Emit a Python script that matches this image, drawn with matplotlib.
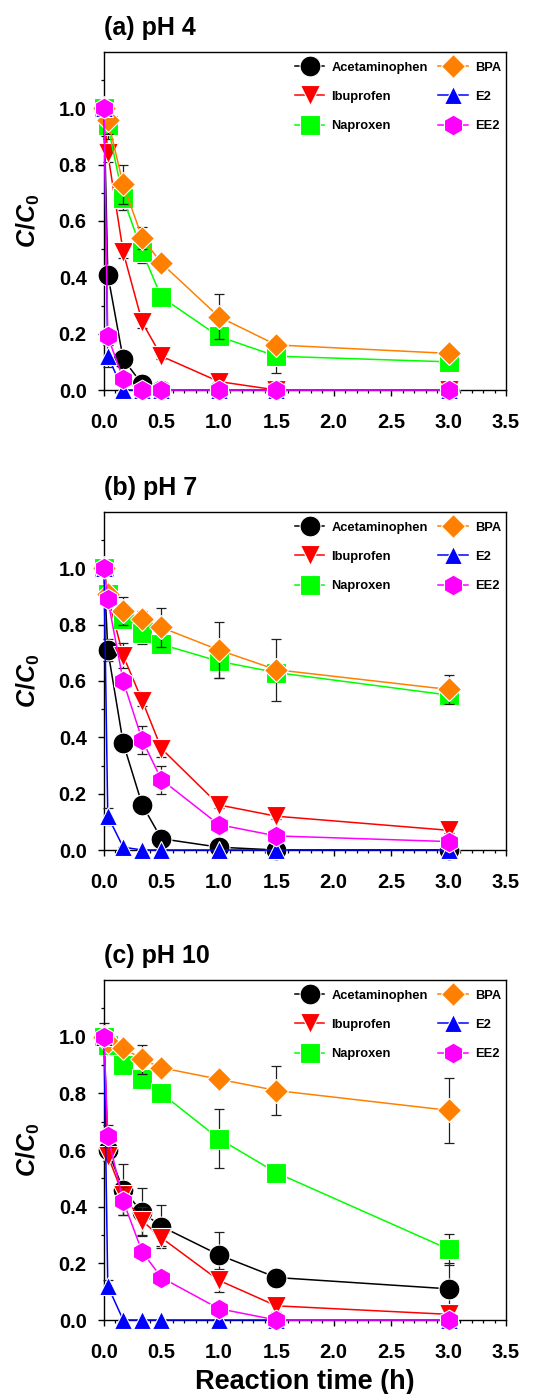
import matplotlib
matplotlib.use("Agg")
import matplotlib.pyplot as plt
from matplotlib.ticker import MultipleLocator, FixedLocator

plt.rcParams['font.family'] = ['Liberation Sans', 'DejaVu Sans']
plt.rcParams['font.weight'] = 'bold'
plt.rcParams['mathtext.fontset'] = 'custom'
plt.rcParams['mathtext.it'] = 'Liberation Sans:italic:bold'
plt.rcParams['mathtext.rm'] = 'Liberation Sans:bold'
plt.rcParams['mathtext.bf'] = 'Liberation Sans:bold'

# ---------------- data ----------------
time_h = [0, 0.033, 0.167, 0.333, 0.5, 1.0, 1.5, 3.0]
compounds = ["Acetaminophen", "Ibuprofen", "Naproxen", "BPA", "E2", "EE2"]
panel_titles = ["(a) pH 4", "(b) pH 7", "(c) pH 10"]

# pH 4
acet_ph4 = [1.0, 0.41, 0.11, 0.02, 0.0, 0.0, 0.0, 0.0]
ibu_ph4 = [1.0, 0.84, 0.49, 0.24, 0.12, 0.03, 0.0, 0.0]
nap_ph4 = [1.0, 0.94, 0.68, 0.49, 0.33, 0.19, 0.12, 0.10]
bpa_ph4 = [1.0, 0.96, 0.73, 0.54, 0.45, 0.26, 0.16, 0.13]
e2_ph4 = [1.0, 0.12, 0.0, 0.0, 0.0, 0.0, 0.0, 0.0]
ee2_ph4 = [1.0, 0.19, 0.04, 0.0, 0.0, 0.0, 0.0, 0.0]

err_acet_ph4 = [0, 0.03, 0.02, 0.02, 0, 0, 0, 0]
err_ibu_ph4 = [0, 0.03, 0.02, 0.02, 0.01, 0.01, 0, 0]
err_nap_ph4 = [0, 0.05, 0.04, 0.04, 0.01, 0.02, 0.06, 0.01]
err_bpa_ph4 = [0, 0.05, 0.07, 0.04, 0.01, 0.08, 0.01, 0.01]
err_e2_ph4 = [0, 0.04, 0, 0, 0, 0, 0, 0]
err_ee2_ph4 = [0, 0.02, 0.01, 0, 0, 0, 0, 0]

# pH 7
acet_ph7 = [1.0, 0.71, 0.38, 0.16, 0.04, 0.01, 0.0, 0.0]
ibu_ph7 = [1.0, 0.90, 0.69, 0.53, 0.36, 0.16, 0.12, 0.07]
nap_ph7 = [1.0, 0.91, 0.82, 0.77, 0.73, 0.67, 0.63, 0.55]
bpa_ph7 = [1.0, 0.91, 0.85, 0.82, 0.79, 0.71, 0.64, 0.57]
e2_ph7 = [1.0, 0.12, 0.01, 0.0, 0.0, 0.0, 0.0, 0.0]
ee2_ph7 = [1.0, 0.89, 0.60, 0.39, 0.25, 0.09, 0.05, 0.03]

err_acet_ph7 = [0, 0.04, 0.01, 0.01, 0.01, 0.01, 0, 0]
err_ibu_ph7 = [0, 0.02, 0.045, 0.02, 0.03, 0.01, 0.01, 0.01]
err_nap_ph7 = [0, 0.02, 0.02, 0.04, 0.01, 0.06, 0.03, 0.03]
err_bpa_ph7 = [0, 0.02, 0.05, 0.03, 0.07, 0.10, 0.11, 0.05]
err_e2_ph7 = [0, 0.03, 0, 0, 0, 0, 0, 0]
err_ee2_ph7 = [0, 0.02, 0.02, 0.05, 0.05, 0.01, 0.01, 0.01]

# pH 10
acet_ph10 = [1.0, 0.60, 0.46, 0.38, 0.33, 0.23, 0.15, 0.11]
ibu_ph10 = [1.0, 0.58, 0.44, 0.35, 0.29, 0.14, 0.05, 0.02]
nap_ph10 = [1.0, 0.97, 0.90, 0.85, 0.80, 0.64, 0.52, 0.25]
bpa_ph10 = [1.0, 0.98, 0.96, 0.92, 0.89, 0.85, 0.81, 0.74]
e2_ph10 = [1.0, 0.12, 0.0, 0.0, 0.0, 0.0, 0.0, 0.0]
ee2_ph10 = [1.0, 0.65, 0.42, 0.24, 0.15, 0.04, 0.0, 0.0]

err_acet_ph10 = [0.05, 0.02, 0.09, 0.085, 0.075, 0.08, 0.03, 0.09]
err_ibu_ph10 = [0, 0.02, 0.03, 0.05, 0.03, 0.04, 0.02, 0.01]
err_nap_ph10 = [0, 0.03, 0.02, 0.02, 0.01, 0.105, 0.01, 0.055]
err_bpa_ph10 = [0, 0.02, 0.01, 0.05, 0.01, 0.01, 0.085, 0.115]
err_e2_ph10 = [0, 0.02, 0, 0, 0, 0, 0, 0]
err_ee2_ph10 = [0, 0.04, 0.05, 0.01, 0.01, 0.01, 0, 0]

panels = [
    ([acet_ph4, ibu_ph4, nap_ph4, bpa_ph4, e2_ph4, ee2_ph4],
     [err_acet_ph4, err_ibu_ph4, err_nap_ph4, err_bpa_ph4, err_e2_ph4, err_ee2_ph4]),
    ([acet_ph7, ibu_ph7, nap_ph7, bpa_ph7, e2_ph7, ee2_ph7],
     [err_acet_ph7, err_ibu_ph7, err_nap_ph7, err_bpa_ph7, err_e2_ph7, err_ee2_ph7]),
    ([acet_ph10, ibu_ph10, nap_ph10, bpa_ph10, e2_ph10, ee2_ph10],
     [err_acet_ph10, err_ibu_ph10, err_nap_ph10, err_bpa_ph10, err_e2_ph10, err_ee2_ph10]),
]

# ---------------- style ----------------
colors = ["#000000", "#FF0000", "#00FF00", "#FF8000", "#0000FF", "#FF00FF"]
markers = ["o", "v", "s", "D", "^", "h"]
msizes = [15, 14, 14, 12, 13.5, 15]

W, H = 536, 1394
fig = plt.figure(figsize=(W / 100, H / 100), dpi=100)

ax_left, ax_right = 104, 506
ax_boxes = [(52, 390), (512, 850), (980, 1320)]

for i, ((series, errs), (top, bot)) in enumerate(zip(panels, ax_boxes)):
    ax = fig.add_axes([ax_left / W, 1 - bot / H, (ax_right - ax_left) / W, (bot - top) / H])
    handles = []
    for j, (y, e) in enumerate(zip(series, errs)):
        ax.errorbar(time_h, y, yerr=e, fmt='none', ecolor='#202020',
                    elinewidth=0.9, capsize=3.6, capthick=0.9, zorder=2 + 2 * j, clip_on=False)
        h, = ax.plot(time_h, y, color=colors[j], lw=1.1, marker=markers[j],
                     ms=msizes[j], mfc=colors[j], mec='white', mew=0.8,
                     zorder=3 + 2 * j, clip_on=False, label=compounds[j])
        handles.append(h)

    ax.set_xlim(0, 3.5)
    ax.set_ylim(0, 1.2)
    ax.xaxis.set_major_locator(MultipleLocator(0.5))
    ax.xaxis.set_minor_locator(MultipleLocator(0.1))
    ax.yaxis.set_major_locator(FixedLocator([0, 0.2, 0.4, 0.6, 0.8, 1.0]))
    ax.yaxis.set_minor_locator(FixedLocator([0.1, 0.3, 0.5, 0.7, 0.9, 1.1]))
    ax.xaxis.set_major_formatter(matplotlib.ticker.FormatStrFormatter('%.1f'))
    ax.yaxis.set_major_formatter(matplotlib.ticker.FormatStrFormatter('%.1f'))
    ax.tick_params(which='major', direction='out', length=4.5, width=1.0,
                   labelsize=14.5, top=False, right=False)
    ax.tick_params(which='minor', direction='out', length=2.5, width=0.9,
                   top=False, right=False)
    ax.tick_params(axis='x', which='major', pad=12)
    ax.tick_params(axis='y', which='major', pad=8)
    for sp in ax.spines.values():
        sp.set_linewidth(1.0)
    for lab in ax.get_xticklabels() + ax.get_yticklabels():
        lab.set_fontweight('bold')

    ax.set_ylabel(r'$C/C_0$', fontsize=18)
    ax.yaxis.set_label_coords(-0.155, 0.5)
    ax.set_title(panel_titles[i], loc='left', fontsize=18, fontweight='bold', pad=12)

    ax.legend(handles=handles, ncol=2, loc='upper right', bbox_to_anchor=(1.012, 1.0),
              frameon=False, prop={'size': 9.3, 'weight': 'bold'},
              handlelength=2.3, handletextpad=0.55, columnspacing=0.8,
              labelspacing=1.33, borderaxespad=0.45, borderpad=0.3)

    if i == 2:
        ax.set_xlabel('Reaction time (h)', fontsize=19.5, fontweight='bold', labelpad=5)

fig.savefig("out.png", dpi=100)
